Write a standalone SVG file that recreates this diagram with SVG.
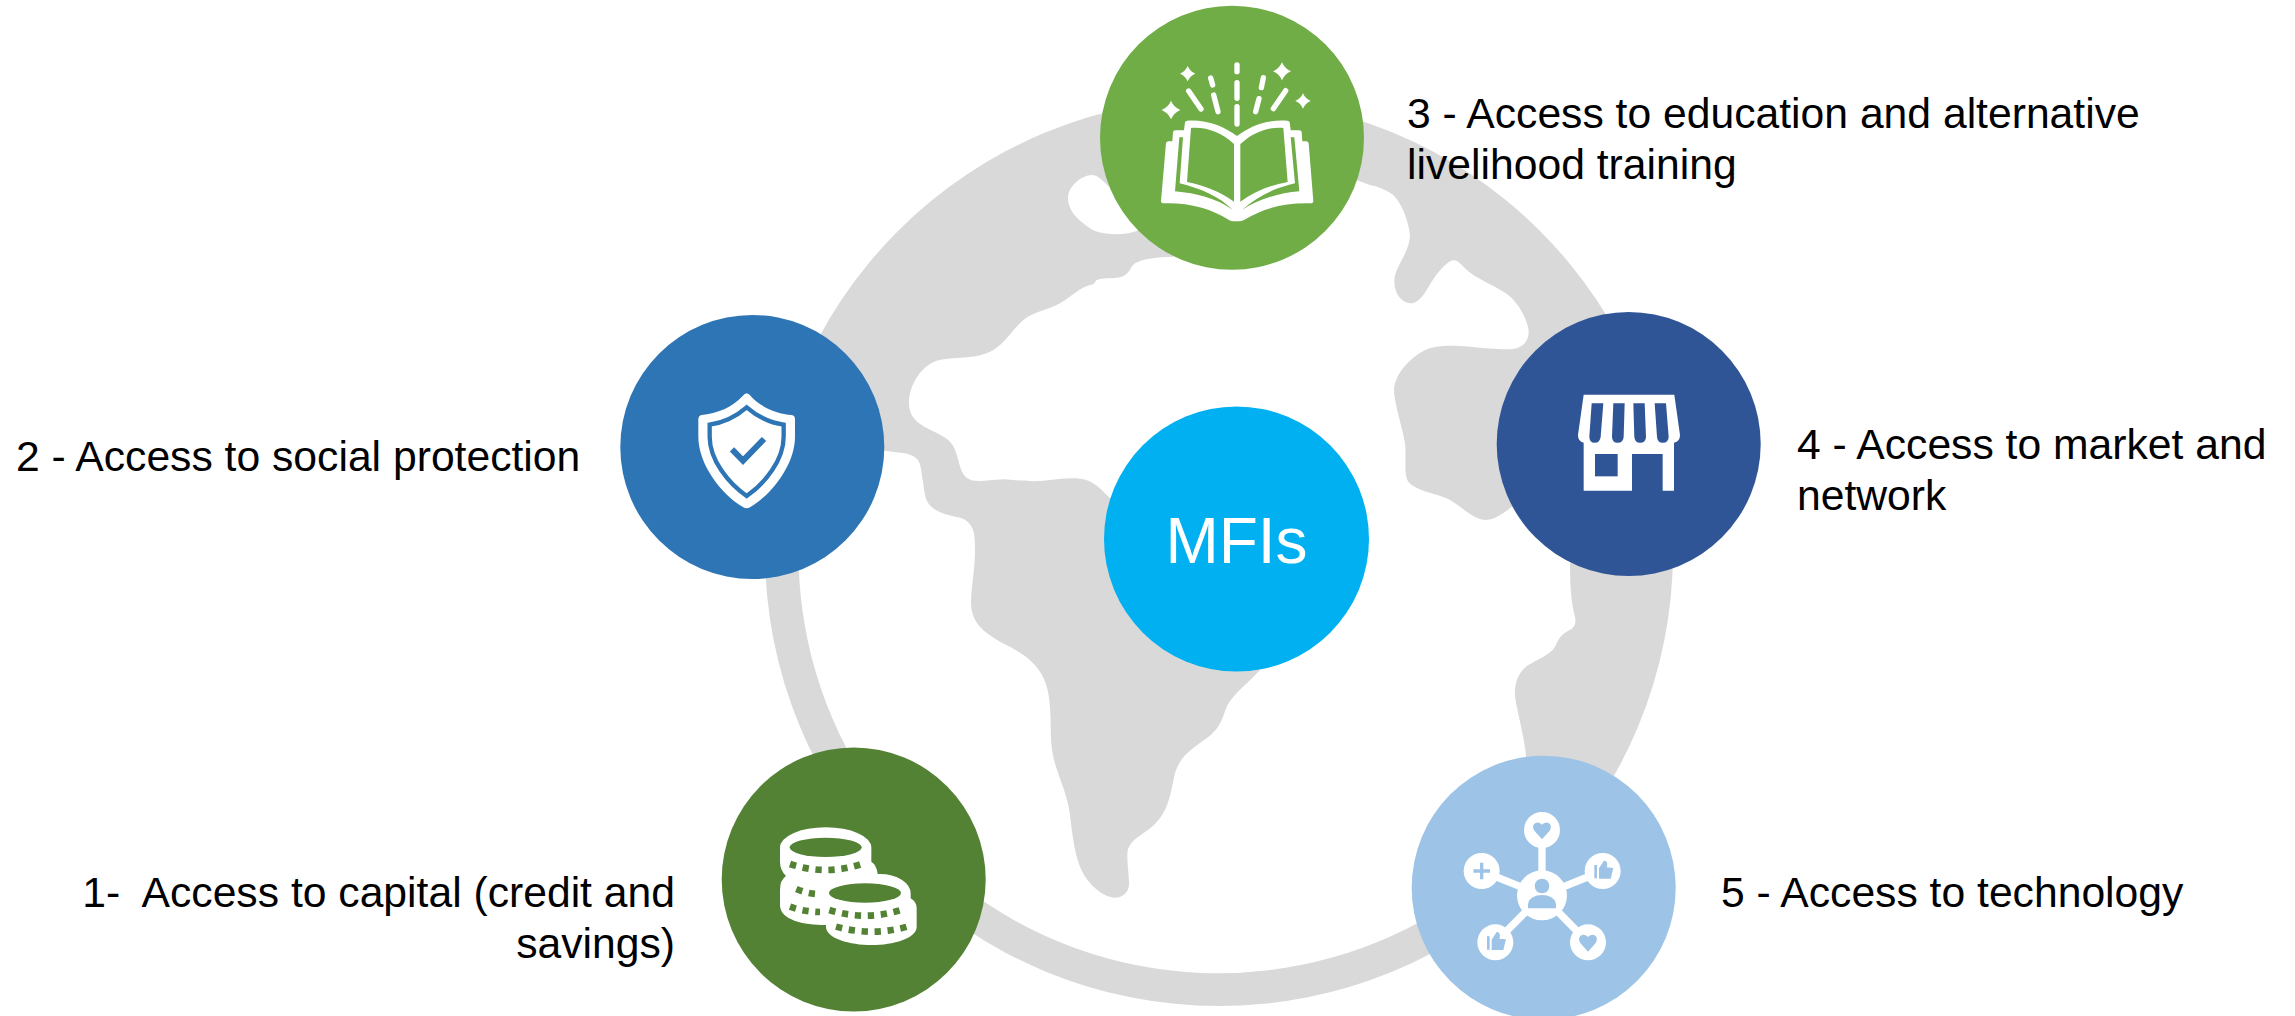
<svg xmlns="http://www.w3.org/2000/svg" xmlns:xlink="http://www.w3.org/1999/xlink" width="2295" height="1016" viewBox="0 0 2295 1016">
<style>
text{font-family:"Liberation Sans",Arial,sans-serif;font-size:42.67px;fill:#000}
.w{fill:#fff}
.ray{fill:none;stroke:#fff;stroke-width:16;stroke-linecap:round}
.dash{fill:none;stroke:#548235;stroke-width:20;stroke-dasharray:19 20}
.link{stroke:#fff;stroke-width:22}
.lb{fill:#9DC3E6}
</style>
<defs>
<path id="star" d="M0-1Q.3-.3 1,0Q.3.3 0,1Q-.3.3-1,0Q-.3-.3 0-1Z" fill="#fff"/>
<path id="heart" d="M0,30L-23,4C-35,-14-16,-30 0,-14C16,-30 35,-14 23,4Z" fill="#9DC3E6"/>
<path id="thumb" d="M-25-18H-17V22H-25ZM-11-8L4-31Q14-31 14-18L12-11L32-9L24,23H-11Z" fill="#9DC3E6"/>
</defs>
<rect width="2295" height="1016" fill="#fff"/>
<g id="globe">
<circle cx="1219" cy="552" r="454" fill="#D9D9D9"/>
<path class="w" d="M1230,200L1173.3,256.7C1156.7,257.3 1143.3,258.3 1135,263.3C1130,266.7 1130.7,273.3 1121.7,276.7C1113.3,279.3 1101.7,277.3 1096.7,280L1093.3,284.3C1080,286.7 1071.7,296.7 1060,303.3C1046.7,310.7 1033.3,311.7 1023.3,320C1011.7,330 1003.3,346.7 986.7,353.3C970,359.3 950,356.7 936.7,360.7C920,366.7 908.3,386.7 909,405C910,426.7 936.7,430 948.3,440C960,450 956.7,470 967.3,478.3C975,483.3 986.7,480 1003.3,479.3C1016.7,480 1026.7,481.7 1040,481C1053.3,480 1066.7,477.3 1080,478.7C1093.3,480 1100,488.3 1110,498.3L1200,540L1260,670C1248.3,683.3 1233.3,693.3 1226.7,706.7C1221.7,720 1220,728.3 1206.7,738.3C1190,750 1180,756.7 1175,773.3C1170,793.3 1170,816.7 1143.3,833.3C1133.3,840 1127.3,845 1127.3,855C1127.3,866.7 1129.3,876.7 1129,885C1128.3,893.3 1121.7,897.7 1115,897.7C1101.7,896.7 1086.7,883.3 1080,866.7C1073.3,850 1071.7,826.7 1069,808.3C1065,786.7 1053.3,766.7 1051.7,746.7C1050,730 1051.7,713.3 1048.3,693.3C1043.3,663.3 1020,651.7 1000,641.7C983.3,631.7 971.7,623.3 971,603.3C971,586.7 975,570 975,550C975,536.7 975,523.3 961.7,518.3C950,515 935,513.3 928.3,503.3C924,496.7 924,486.7 922.7,480C921,470 921,463 917,459C912,454 905,453 898,452.5L885,450.7L805,480A420,420 0 0 0 1500,865L1526,756.7C1525,740 1518.3,716.7 1515,696.7C1514,683.3 1518.3,671.7 1528.3,665C1538.3,659 1550,655 1555,646.7C1558.3,640 1560,635 1568.3,630.7C1573.3,628.3 1576.7,625 1575,616.7C1571.7,605 1570,590 1570,563.3L1600,530L1511.7,506.7C1501.7,515 1493.3,520 1485,520C1473.3,519.3 1461.7,506.7 1450,500C1438.3,493.3 1416.7,491.7 1408.3,481.7C1403.3,475 1406.7,456.7 1405,443.3C1401.7,423.3 1394,403.3 1394,390C1395,373.3 1410,358.3 1423.3,351C1433.3,345 1450,345 1470,346.7C1486.7,348.3 1503.3,350 1513.3,349C1525,347.3 1530,338.3 1528.3,328.3C1525,313.3 1515,298.3 1503.3,291.7C1490,283.3 1475,278.3 1465,268.3C1460,263.3 1457.3,260 1453.3,260.3C1448.3,260.7 1440,270 1435,276.7C1426.7,288.3 1421.7,303.3 1410,303.3C1400,302.7 1394,291.7 1394.3,280C1395,266.7 1410,251.7 1410,235C1408.3,220 1401.7,203.3 1393.3,195C1386.7,190 1378.3,186.7 1370,185L1345,176Z"/>
<path class="w" d="M1092,175C1082,175 1068,186 1068,198C1068,212 1080,222 1093,230C1103,235 1125,236 1140,230L1140,190L1108,186C1102,180 1098,175 1092,175Z"/>
</g>
<g id="connectors"/>
<g id="node-mfis">
<circle cx="1236.5" cy="539" r="132.5" fill="#00B0F0"/>
<text x="1236.5" y="563" text-anchor="middle" style="font-size:64px;fill:#fff">MFIs</text>
</g>
<g id="node-1">
<circle cx="853.7" cy="879.5" r="132" fill="#548235"/>
<g transform="translate(700 730) scale(.33333)">
<path class="w" d="M240,352A137,60 0 0 1 514,352V395Q530,405 533,432H540A92,58 0 0 1 632,490V505Q650,515 650,535V590C650,625 580,645 515,645C450,645 378,625 378,590V585C310,585 240,570 240,525V480Q240,450 258,438Q240,420 240,395Z"/>
<ellipse cx="377" cy="352" rx="108" ry="29" fill="#548235"/>
<ellipse cx="495" cy="489" rx="108" ry="29" fill="#548235"/>
<path class="dash" d="M270,402Q377,438 485,402"/>
<path class="dash" d="M289,477Q320,490 347,492"/>
<path class="dash" d="M270,530Q310,545 360,546"/>
<path class="dash" d="M388,540Q495,574 603,540"/>
<path class="dash" d="M408,590Q515,620 622,590"/>
</g>
<text x="675" y="907" text-anchor="end" xml:space="preserve">1-  Access to capital (credit and</text>
<text x="675" y="958" text-anchor="end">savings)</text>
</g>
<g id="node-2">
<circle cx="752.3" cy="447" r="132" fill="#2E75B6"/>
<g transform="translate(600 290) scale(.33333)">
<path class="w" d="M440,310Q432,312 428,318C400,350 350,372 305,375Q295,377 295,388V440C295,520 360,610 430,652Q440,658 450,652C520,610 585,520 585,440V388Q585,376 575,375C530,372 480,350 452,318Q448,312 440,310Z"/>
<path d="M440,352C410,378 370,398 329,404V440C329,510 385,580 440,618C495,580 551,510 551,440V404C510,398 470,378 440,352Z" fill="none" stroke="#2E75B6" stroke-width="13"/>
<path d="M396,478L429,512L492,447" fill="none" stroke="#2E75B6" stroke-width="18"/>
</g>
<text x="16" y="471">2 - Access to social protection</text>
</g>
<g id="node-3">
<circle cx="1232" cy="137.7" r="132" fill="#70AD47"/>
<g transform="translate(1050 0) scale(.33333)">
<path class="w" d="M333,603L348,430Q349,424 356,424H367L369,396Q370,391 376,391H402L405,367Q406,362 412,362C470,358 520,378 561,408C600,378 650,358 712,362Q718,362 719,367L722,391H748Q754,391 755,396L757,424H768Q775,424 776,430L790,603Q790,610 782,610C700,608 640,625 582,660Q575,664 565,664H550Q543,664 537,660C480,625 420,608 342,610Q333,610 333,603Z"/>
<g fill="#70AD47">
<path d="M423,384C470,380 515,398 552,432V605C510,575 460,555 411,546Z"/>
<path d="M700,384C650,380 610,398 571,432V605C612,575 660,555 713,546Z"/>
<path d="M388,412H399L389,550C450,565 510,590 548,630C500,595 440,580 375,574Z"/>
<path d="M722,412H733L748,574C680,580 620,600 576,630C620,590 670,565 735,550Z"/>
</g>
<path class="ray" d="M561,195V215M561,248V295M561,320V372M482,234L488,255M491,285L504,335M640,233L634,263M627,296L617,335M416,273L453,327M707,272L670,326"/>
<use xlink:href="#star" href="#star" transform="translate(413 221) scale(23)"/>
<use xlink:href="#star" href="#star" transform="translate(363 330) scale(28)"/>
<use xlink:href="#star" href="#star" transform="translate(696 214) scale(27)"/>
<use xlink:href="#star" href="#star" transform="translate(759 303) scale(23)"/>
</g>
<text x="1407" y="128">3 - Access to education and alternative</text>
<text x="1407" y="179">livelihood training</text>
</g>
<g id="node-4">
<circle cx="1628.7" cy="444" r="132" fill="#2F5597"/>
<g transform="translate(1480 300) scale(.33333)">
<path class="w" d="M311,284H583L600,405Q600,425 582,428V572H548V462H456V572H311V428Q294,425 294,405Z"/>
<g fill="#2F5597">
<rect x="345" y="462" width="68" height="67"/>
<path d="M335,310H370L362,410Q360,428 344,428Q328,428 328,410Z"/>
<path d="M400,310H434L431,410Q430,428 413,428Q396,428 396,410Z"/>
<path d="M460,310H494L498,410Q498,428 480,428Q464,428 463,410Z"/>
<path d="M524,310H558L566,410Q566,428 548,428Q532,428 531,410Z"/>
</g>
</g>
<text x="1797" y="459">4 - Access to market and</text>
<text x="1797" y="510">network</text>
</g>
<g id="node-5">
<circle cx="1543.7" cy="887.7" r="132" fill="#9DC3E6"/>
<g transform="translate(1400 740) scale(.33333)">
<path class="link" d="M426,466V270M426,466L245,393M426,466L608,393M426,466L286,607M426,466L564,607"/>
<g class="w">
<circle cx="426" cy="466" r="75"/>
<circle cx="426" cy="270" r="54"/>
<circle cx="245" cy="393" r="54"/>
<circle cx="608" cy="393" r="54"/>
<circle cx="286" cy="607" r="54"/>
<circle cx="564" cy="607" r="54"/>
</g>
<circle class="lb" cx="426" cy="438" r="22"/>
<path class="lb" d="M384,505V495C384,475 405,465 426,465C447,465 468,475 468,495V505Z"/>
<use xlink:href="#heart" href="#heart" transform="translate(426 268)"/>
<use xlink:href="#heart" href="#heart" transform="translate(564 605)"/>
<use xlink:href="#thumb" href="#thumb" transform="translate(608 393)"/>
<use xlink:href="#thumb" href="#thumb" transform="translate(286 607)"/>
<path class="lb" d="M240,368H250V388H270V398H250V418H240V398H220V388H240Z"/>
</g>
<text x="1721" y="907">5 - Access to technology</text>
</g>
</svg>
